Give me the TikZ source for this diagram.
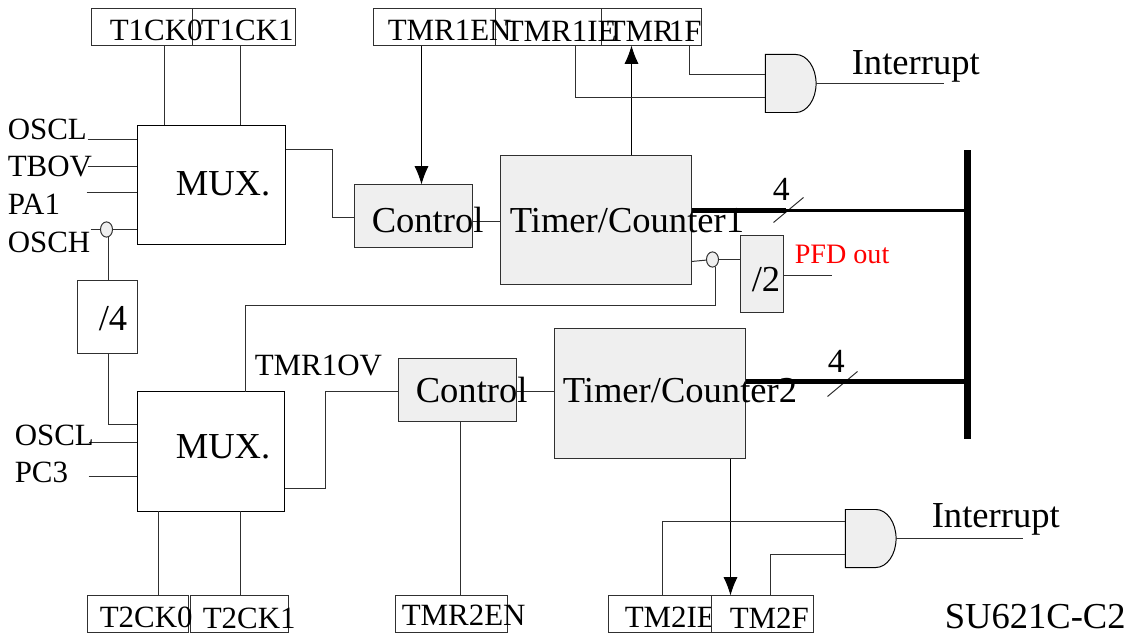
\documentclass[tikz,border=0pt]{standalone}
\usepackage{fontspec}
\setmainfont{Liberation Serif}
\usetikzlibrary{arrows.meta, shapes.geometric, shapes.gates.logic.US}
\definecolor{blkfill}{HTML}{EFEFEF}
\definecolor{wire}{HTML}{303030}
\tikzset{%
	>={Latex[length=13pt,width=10pt]},
	wires/.style = {draw = wire, line width = 0.7pt},
	every edge/.append style={wires},
	arr/.style = {draw = black},
	reg/.style = {draw = wire, line width = 0.7pt, fill = white, inner sep = 0pt, outer sep = 0pt, minimum height = 0.925cm},
	mux/.style = {draw = black, line width = 0.7pt, fill = white, inner sep = 0pt, outer sep = 0pt},
	blk/.style = {mux, draw = wire, fill = blkfill},
	inv/.style = {draw = wire, line width = 0.7pt, fill = blkfill, ellipse, inner sep = 0pt, outer sep = 0pt, minimum width = 0.3cm, minimum height = 0.38cm},
	gate/.style = {and gate US, draw = black, line width = 0.7pt, fill = blkfill, inner sep = 0pt, outer sep = 0pt, minimum width = 1.45cm, minimum height = 1.45cm, xscale = 0.7, transform shape},
	big/.style = {anchor = base west, inner sep = 0pt, xshift = -0.7pt, font = \fontsize{26}{26}\selectfont},
	small/.style = {anchor = base west, inner sep = 0pt, xshift = -0.7pt, font = \fontsize{22}{22}\selectfont},
	busline/.style = {draw = black, line width = 3pt}
}
\begin{document}
\begin{tikzpicture}[x=0.025cm,y=-0.025cm]
			\useasboundingbox (-0.5,-0.5) rectangle (1136.5,635.5);
			% registers
			\node [reg, minimum width = 2.525cm] (T1CKa) at (141.5,26.5) {};
			\node [reg, minimum width = 2.575cm] (T1CKb) at (243.5,26.5) {};
			\node [reg, minimum width = 3.05cm] (TMRaEN) at (434,26.5) {};
			\node [reg, minimum width = 2.65cm] (TMRaIE) at (548,26.5) {};
			\node [reg, minimum width = 2.5cm] (TMRaF) at (651,26.5) {};
			\node [reg, minimum width = 2.525cm] (T2CKa) at (137.5,613.5) {};
			\node [reg, minimum width = 2.45cm] (T2CKb) at (239,613.5) {};
			\node [reg, minimum width = 2.8cm] (TMRbEN) at (451,613.5) {};
			\node [reg, minimum width = 2.6cm] (TMbIE) at (660,613.5) {};
			\node [small] (TMbIEtxt) at (625,627) {TM2IE};
			\node [reg, minimum width = 2.55cm] (TMbF) at (762,613.5) {};
			% blocks
			\node [mux, minimum width = 3.7cm, minimum height = 2.975cm] (MUXa) at (211,184.5) {};
			\node [mux, minimum width = 3.675cm, minimum height = 2.975cm] (MUXb) at (210.5,451) {};
			\node [mux, draw = wire, minimum width = 1.5cm, minimum height = 1.825cm] (divb) at (107,316.5) {};
			\node [blk, minimum width = 2.95cm, minimum height = 1.575cm] (CTLa) at (413,215.5) {};
			\node [blk, minimum width = 2.95cm, minimum height = 1.575cm] (CTLb) at (457,389.5) {};
			\node [blk, minimum width = 4.775cm, minimum height = 3.225cm] (TCa) at (595.5,219.5) {};
			\node [blk, minimum width = 4.775cm, minimum height = 3.25cm] (TCb) at (649.5,393) {};
			\node [blk, minimum width = 1.075cm, minimum height = 1.925cm] (diva) at (761,273.5) {};
			\node at (788.5,83) [gate] (ANDa) {};
			\node at (868.5,538) [gate] (ANDb) {};
			\node [inv] (INVa) at (106,229) {};
			\node [inv] (INVb) at (712,259) {};
			% bus
			\coordinate (BUStop) at (967,150);
			\coordinate (BUSend) at (967,438);
			% free ends
			\coordinate (inOSCLa) at (87,139);
			\coordinate (inTBOV) at (87,166);
			\coordinate (inPA) at (86,192);
			\coordinate (inOSCH) at (90,229);
			\coordinate (inOSCLb) at (88,442);
			\coordinate (inPC) at (88,476);
			\coordinate (outINTa) at (943,86);
			\coordinate (outINTb) at (1022,540);
			\coordinate (outPFD) at (831,275);
			\coordinate (busAb) at (785,210);
			\coordinate (slashAa) at (773,222);
			\coordinate (slashAb) at (803,197);
			\coordinate (slashBa) at (827,396);
			\coordinate (slashBb) at (857,371);
			% connectors
			\path (T1CKa.south -| 164,0) edge (MUXa.north -| 164,0);
			\path (T1CKb.south -| 240,0) edge (MUXa.north -| 240,0);
			\path (inOSCLa) edge (inOSCLa -| MUXa.west);
			\path (inTBOV) edge (inTBOV -| MUXa.west);
			\path (inPA) edge (inPA -| MUXa.west);
			\path (inOSCH) edge (INVa);
			\path (INVa) edge (INVa -| MUXa.west);
			\path (INVa.south -| 108,0) edge (divb.north -| 108,0);
			\draw [wires] (divb.south -| 108,0) -- (108,424) -- (MUXb.west |- 0,424);
			\path (inOSCLb) edge (inOSCLb -| MUXb.west);
			\path (inPC) edge (inPC -| MUXb.west);
			\draw [wires] (MUXa.east |- 0,149) -- (332,149) -- (332,217) -- (CTLa.west |- 0,217);
			\path (CTLa.east |- 0,221) edge (TCa.west |- 0,221);
			\path [->] (TMRaEN.south -| 421,0) edge [arr] (CTLa.north -| 421,0);
			\path [->] (TCa.north -| 631,0) edge [arr] (TMRaF.south -| 631,0);
			\draw [wires] (TMRaIE.south -| 575,0) -- (575,97) -- (ANDa.west |- 0,97);
			\draw [wires] (TMRaF.south -| 689,0) -- (689,74) -- (ANDa.west |- 0,74);
			\path (ANDa.east) edge (ANDa.east -| outINTa);
			\path (TCa.east |- 0,261) edge (INVb);
			\path (INVb) edge (diva.west |- INVb);
			\path (diva.east |- outPFD) edge (outPFD);
			\draw [wires] (MUXb.north -| 245,0) -- (245,305) -- (715,305) -- (INVb.south -| 715,0);
			\draw [wires] (MUXb.east |- 0,488) -- (325,488) -- (325,391) -- (CTLb.west |- 0,391);
			\path (CTLb.east |- 0,391) edge (TCb.west |- 0,391);
			\path (CTLb.south -| 460,0) edge (TMRbEN.north -| 460,0);
			\path (MUXb.south -| 158,0) edge (T2CKa.north -| 158,0);
			\path (MUXb.south -| 240,0) edge (T2CKb.north -| 240,0);
			\path [->] (TCb.south -| 730,0) edge [arr] (TMbF.north -| 730,0);
			\draw [wires] (TMbIE.north -| 662,0) -- (662,521) -- (ANDb.west |- 0,521);
			\draw [wires] (TMbF.north -| 770,0) -- (770,554) -- (ANDb.west |- 0,554);
			\path (ANDb.east) edge (ANDb.east -| outINTb);
			\path (slashAa) edge (slashAb);
			\path (slashBa) edge (slashBb);
			\draw [busline] (TCa.east |- busAb) -- (busAb);
			\draw [draw = black, line width = 1.7pt] (busAb) -- (busAb -| BUStop);
			\draw [busline] (TCb.east |- 0,381) -- (BUStop |- 0,381);
			\draw [draw = black, line width = 4.5pt] (BUStop) -- (BUSend);
			% labels
			\node [small] (T1CKatxt) at (110,40) {T1CK0};
			\node [small] (T1CKbtxt) at (201,40) {T1CK1};
			\node [small] (TMRaENtxt) at (388,40) {TMR1EN};
			\node [small] (TMRaIEtxt) at (505,41) {TMR1IE};
			\node [small] (TMRaFtxt) at (607,41) {TMR\kern-3.5pt 1F};
			\node [small] (OSCLatxt) at (8,139) {OSCL};
			\node [small] (TBOVtxt) at (8,176) {TBOV};
			\node [small] (PAtxt) at (8,214) {PA1};
			\node [small] (OSCHtxt) at (8,252) {OSCH};
			\node [big] (MUXatxt) at (176,195) {MUX.};
			\node [big] (MUXbtxt) at (176,458) {MUX.};
			\node [big] (divbtxt) at (99,330) {/4};
			\node [big] (divatxt) at (752,291) {/2};
			\node [big] (CTLatxt) at (372,232) {Control};
			\node [big] (CTLbtxt) at (416,402) {Control};
			\node [big] (TCatxt) at (510,232) {Timer/Counter1};
			\node [big] (TCbtxt) at (563,402) {Timer/Counter2};
			\node [small] (TMROVtxt) at (255,375) {TMR1OV};
			\node [small] (OSCLbtxt) at (15,445) {OSCL};
			\node [small] (PCtxt) at (15,482) {PC3};
			\node [small] (T2CKatxt) at (100,627) {T2CK0};
			\node [small] (T2CKbtxt) at (203,628) {T2CK1};
			\node [small] (TMRbENtxt) at (402,625) {TMR2EN};
			\node [small] (TMbFtxt) at (730,628) {TM2F};
			\node [big] (INTatxt) at (852,74) {Interrupt};
			\node [big] (INTbtxt) at (932,527) {Interrupt};
			\node [small, font = \fontsize{20}{20}\selectfont, text = red] (PFDtxt) at (795,263) {PFD out};
			\node [small, font = \fontsize{24}{24}\selectfont] (numatxt) at (773,200) {4};
			\node [small, font = \fontsize{24}{24}\selectfont] (numbtxt) at (828,372) {4};
			\node [small, font = \fontsize{26}{26}\selectfont] (SUtxt) at (945,628) {SU621C-C2};
			\end{tikzpicture}
\end{document}
